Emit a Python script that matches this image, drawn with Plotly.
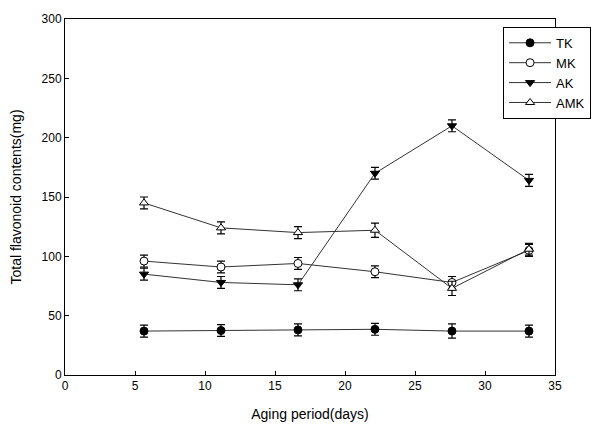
import plotly.graph_objects as go

# Aging period (days) and total flavonoid contents (mg) per treatment
days = [5, 10, 15, 20, 25, 30]

tk = [37, 37.5, 38, 38.5, 37, 37]
tk_err = [5, 5, 5, 5, 6, 5]

mk = [96, 91, 94, 87, 78, 105]
mk_err = [5, 5, 5, 5, 5, 5]

ak = [85, 78, 76, 170, 210, 164]
ak_err = [5, 5, 5, 5, 5, 5]

amk = [145, 124, 120, 122, 73, 106]
amk_err = [5, 5, 5, 6, 6, 5]

x_ticks = [0, 5, 10, 15, 20, 25, 30, 35]
y_ticks = [0, 50, 100, 150, 200, 250, 300]

series = [
    ("TK", tk, tk_err, "circle", "black"),
    ("MK", mk, mk_err, "circle", "white"),
    ("AK", ak, ak_err, "triangle-down", "black"),
    ("AMK", amk, amk_err, "triangle-up", "white"),
]

fig = go.Figure()
# empty trace so the labelled x axis is rendered
fig.add_trace(go.Scatter(x=[], y=[], showlegend=False, hoverinfo="skip"))
for name, vals, errs, sym, fill in series:
    fig.add_trace(go.Scatter(
        x=days, y=vals, name=name, mode="lines+markers",
        xaxis="x2",
        line=dict(color="#333333", width=1),
        marker=dict(symbol=sym, size=8, color=fill,
                    line=dict(color="black", width=1)),
        error_y=dict(type="data", array=errs, visible=True,
                     color="black", thickness=1.2, width=4),
    ))

font = "Liberation Sans, Arial, sans-serif"
fig.update_layout(
    width=613, height=432,
    margin=dict(l=65, r=58, t=17, b=57),
    paper_bgcolor="white", plot_bgcolor="white",
    font=dict(family=font, size=12, color="black"),
    showlegend=True,
    legend=dict(
        x=0.894, y=0.978, xanchor="left", yanchor="top",
        bgcolor="white", bordercolor="black", borderwidth=1,
        font=dict(family=font, size=13, color="black"),
        tracegroupgap=0, itemwidth=42,
    ),
    xaxis=dict(
        range=[0, 35], tickvals=x_ticks, ticktext=[str(v) for v in x_ticks],
        showgrid=False, zeroline=False,
        showline=True, linecolor="black", linewidth=1, mirror=True,
        ticks="inside", ticklen=4, tickcolor="black",
        title=dict(text="Aging period(days)", font=dict(size=14), standoff=16),
    ),
    xaxis2=dict(
        range=[-0.13, 31.69], overlaying="x", visible=False,
        showgrid=False, zeroline=False,
    ),
    yaxis=dict(
        range=[0, 300], tickvals=y_ticks, ticktext=[str(v) for v in y_ticks],
        showgrid=False, zeroline=False,
        showline=True, linecolor="black", linewidth=1, mirror=True,
        ticks="inside", ticklen=4, tickcolor="black",
        title=dict(text="Total flavonoid contents(mg)", font=dict(size=14), standoff=16),
    ),
)

fig.write_html("out.html")
